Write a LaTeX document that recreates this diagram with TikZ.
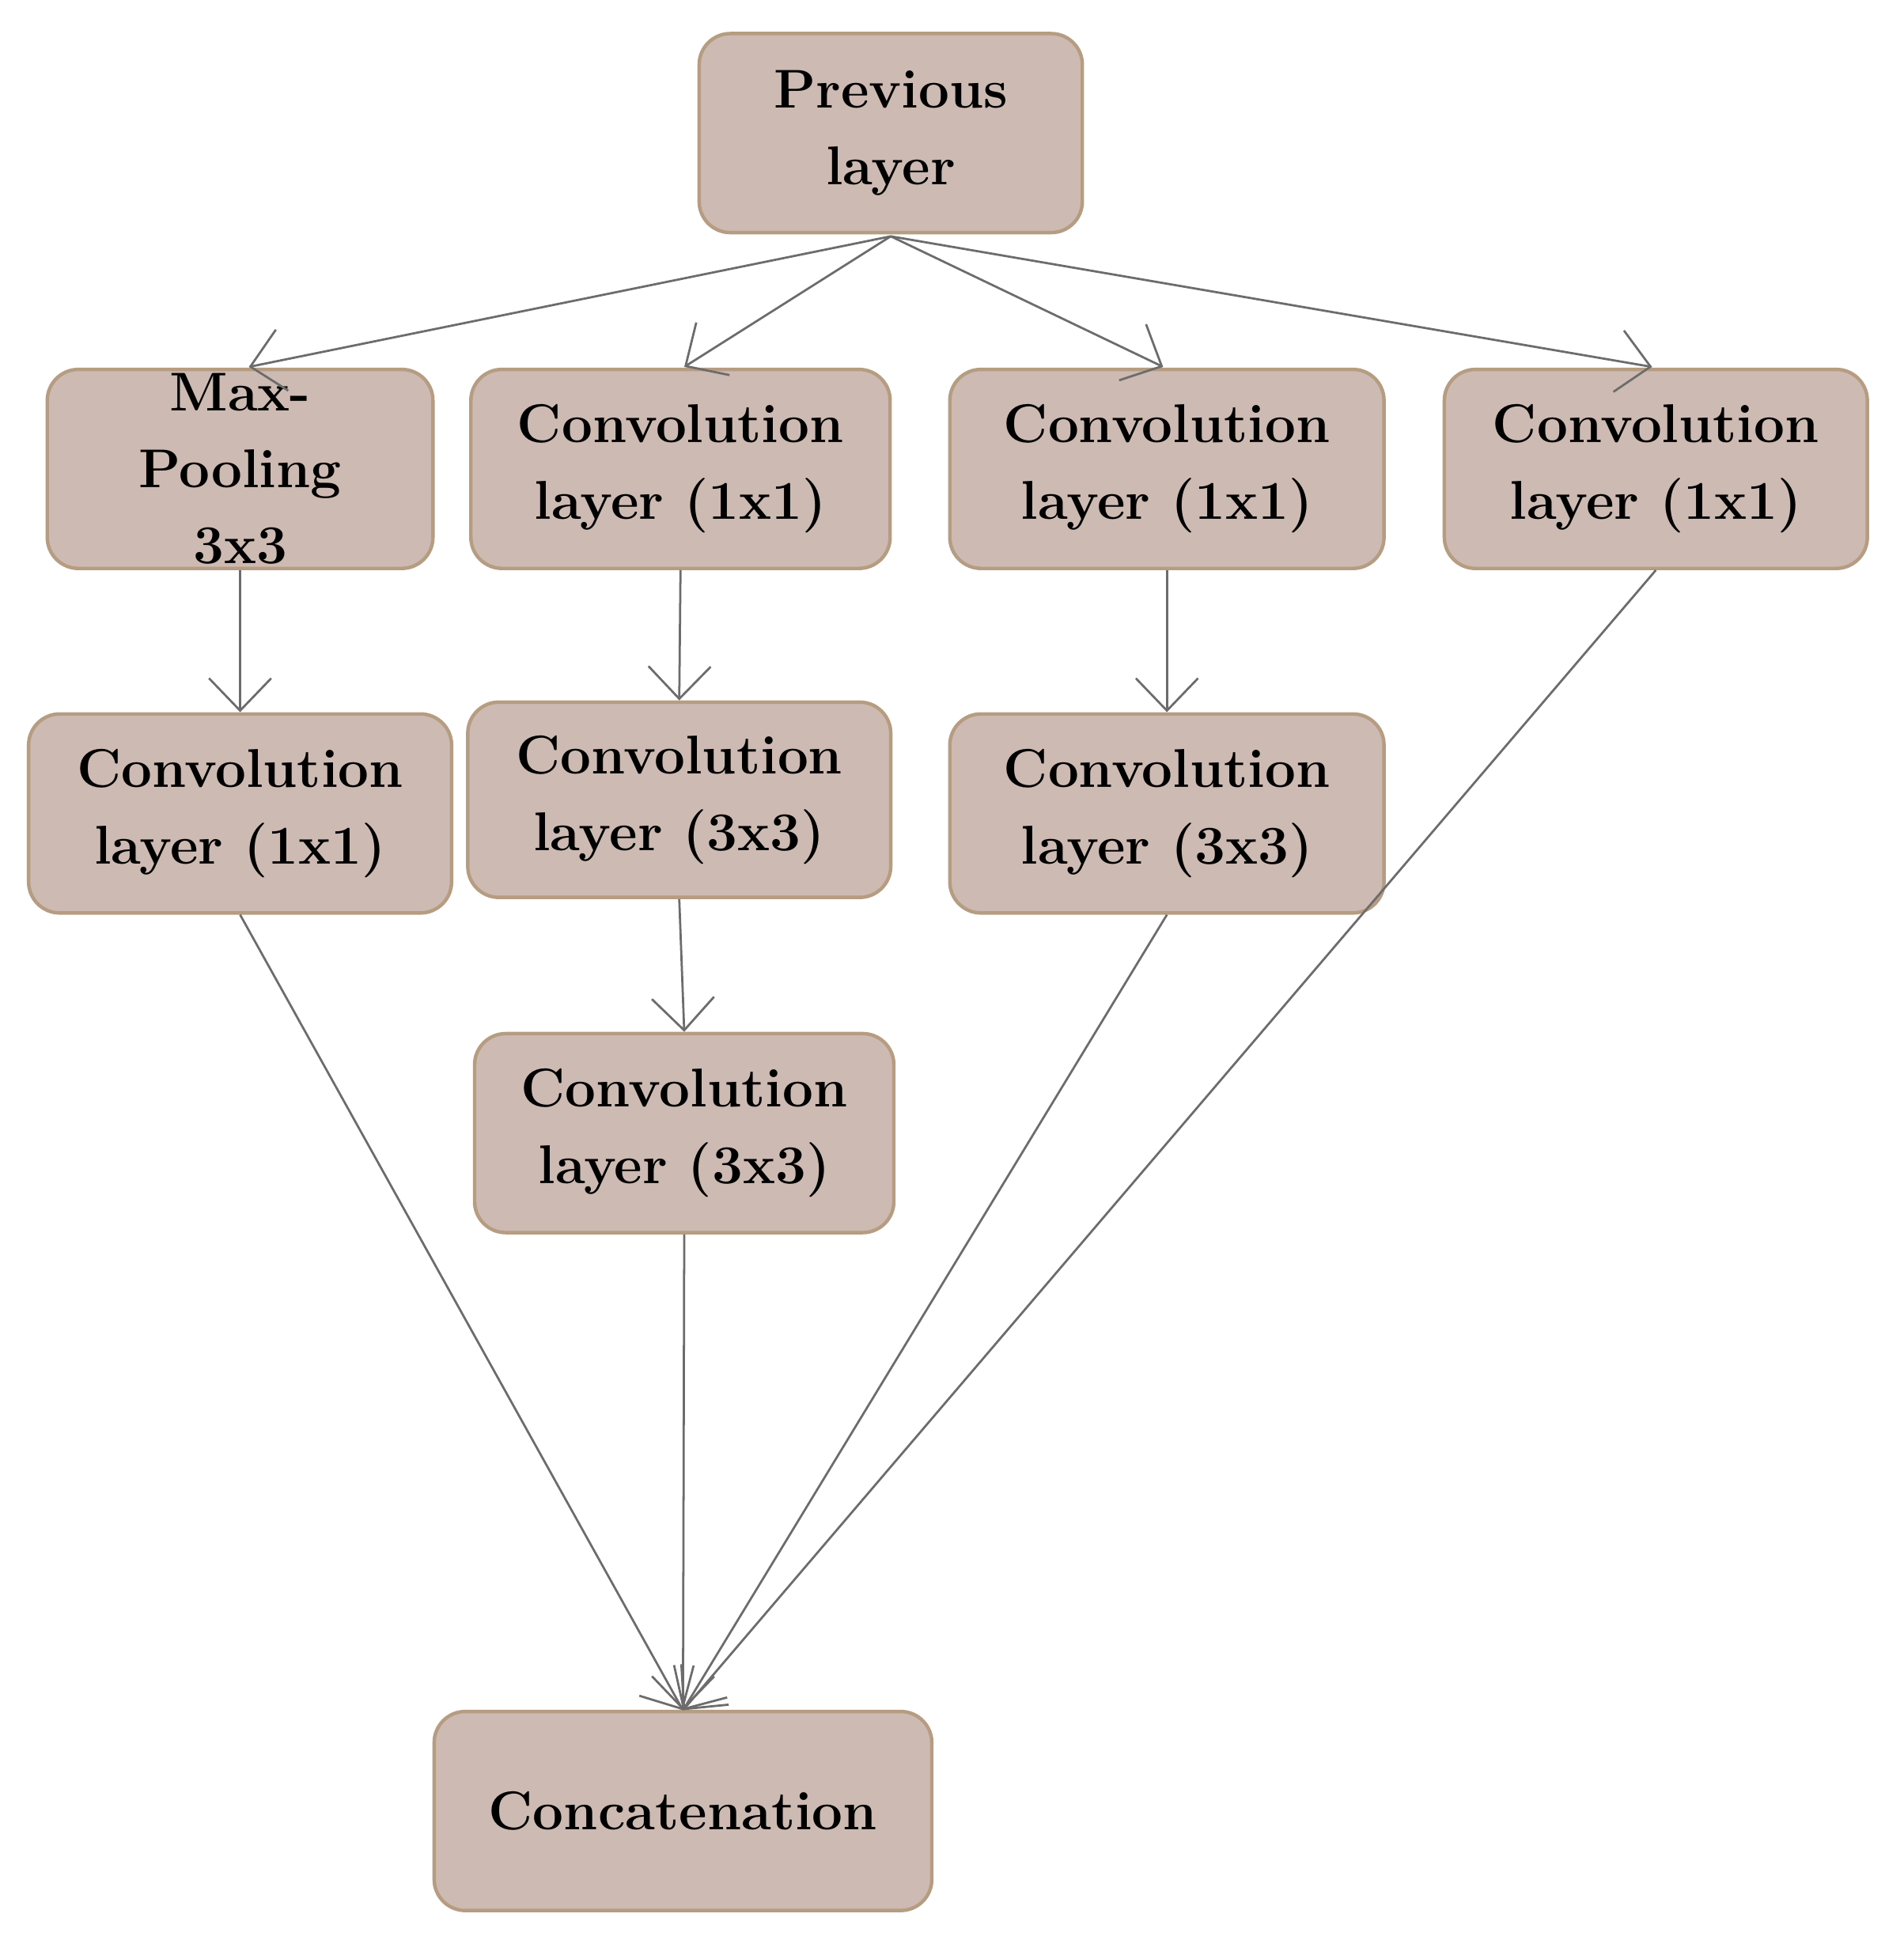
\documentclass[tikz,border=0pt]{standalone}
\usetikzlibrary{arrows.meta}
\begin{document}
\begin{tikzpicture}[x=0.1mm,y=-0.1mm,
  box/.style={draw=brown!70!black!60, fill=boxfill, line width=0.8pt, rounded corners=2.5mm,
    minimum height=16mm, inner sep=0pt, align=center,
    font=\fontsize{12.5}{17.5}\selectfont\bfseries},
  ar/.style={draw=gray!85!black, line width=0.5pt, -{Straight Barb[length=2.6mm,width=5mm]}},
  ln/.style={draw=gray!85!black, line width=0.5pt}]
\definecolor{boxfill}{HTML}{CDBAB2}
\useasboundingbox (0,0) rectangle (1530,1575);
\node[box, minimum width=30.8mm] (prev) at (716,107) {Previous\\layer};
\node[box, minimum width=31mm] (mp) at (193,377) {Max-\\Pooling\\3x3};
\node[box, minimum width=33.7mm] (c1) at (547,377) {Convolution\\layer (1x1)};
\node[box, minimum width=34.9mm] (c2) at (938,377) {Convolution\\layer (1x1)};
\node[box, minimum width=34mm] (c3) at (1331,377) {Convolution\\layer (1x1)};
\node[box, minimum width=34mm] (d1) at (193,654) {Convolution\\layer (1x1)};
\node[box, minimum width=34mm, minimum height=15.7mm] (d2) at (546,643) {Convolution\\layer (3x3)};
\node[box, minimum width=34.9mm] (d3) at (938,654) {Convolution\\layer (3x3)};
\node[box, minimum width=33.7mm] (e2) at (550,911) {Convolution\\layer (3x3)};
\node[box, minimum width=40mm] (cat) at (549,1456) {Concatenation};
\coordinate (pb) at (716,190);
\coordinate (cb) at (549,1375);
\draw[ar] (pb) -- (200,295);
\draw[ar] (pb) -- (550,295);
\draw[ar] (pb) -- (935,295);
\draw[ar] (pb) -- (1328,295);
\draw[ar] (mp.south) -- (d1.north);
\draw[ar] (c1.south) -- (d2.north);
\draw[ar] (c2.south) -- (d3.north);
\draw[ar] (d2.south) -- (e2.north);
\draw[ar] (d1.south) -- (cb);
\draw[ar] (e2.south) -- (cb);
\draw[ar] (d3.south) -- (cb);
\draw[ar] (c3.south) -- (cb);
\end{tikzpicture}
\end{document}
